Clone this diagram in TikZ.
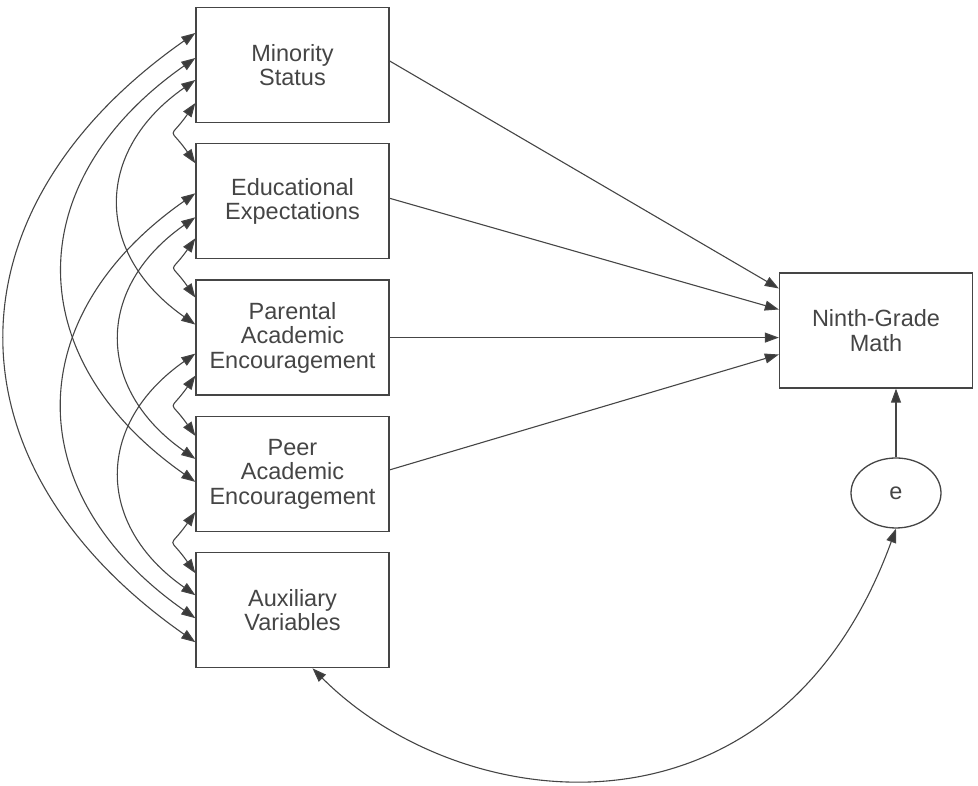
\documentclass[tikz,border=0pt]{standalone}
\usepackage{fontspec}
\setmainfont{Liberation Sans}
\usetikzlibrary{shapes.geometric, arrows.meta, positioning, calc}
\definecolor{inkgray}{HTML}{454545}
\definecolor{tipgray}{HTML}{3A3A3A}

\begin{document}
\begin{tikzpicture}[
        x=1pt, y=1pt,
        node distance=20pt,
        >={Triangle[length=14pt,width=10pt,fill=tipgray]},
        varbox/.style={draw=inkgray, line width=1.3pt, minimum width=193pt, minimum height=115pt, align=center, text=inkgray, font=\fontsize{23.5}{24.5}\selectfont},
        errnode/.style={draw=inkgray, line width=1.3pt, ellipse, minimum width=90pt, minimum height=70pt, text=inkgray, font=\fontsize{23.5}{24.5}\selectfont},
        regpath/.style={->, draw=inkgray, line width=1.1pt},
        covline/.style={<->, draw=inkgray, line width=1.1pt},
        cov/.style={covline, out=215, in=145, looseness=1.3},
        covnear/.style={covline, out=235, in=125, looseness=2}
    ]
        \useasboundingbox (0,0) rectangle (978,786);

        % Nodes
        \node[varbox] (min) at (292.5,721) {Minority\\Status};
        \node[varbox, below=of min] (edu) {Educational\\Expectations};
        \node[varbox, below=of edu] (par) {Parental\\Academic\\Encouragement};
        \node[varbox, below=of par] (peer) {Peer\\Academic\\Encouragement};
        \node[varbox, below=of peer] (aux) {Auxiliary\\Variables};
        \node[varbox] (ninth) at (876,455.5) {Ninth-Grade\\Math};
        \node[errnode] (e) at (896,293) {e};

        % Paths
        \draw[regpath] ([yshift=4pt]min.east) -- ([yshift=42pt]ninth.west);
        \draw[regpath] ([yshift=3pt]edu.east) -- ([yshift=21pt]ninth.west);
        \draw[regpath] (par.east) -- (par.east -| ninth.west);
        \draw[regpath] ([yshift=4pt]peer.east) -- ([yshift=-24pt]ninth.west);
        \draw[regpath] (e) -- (e |- ninth.south);

        % Covariances
        \draw[covnear] ([yshift=-38pt]min.west) to ([yshift=38pt]edu.west);
        \draw[covnear] ([yshift=-37pt]edu.west) to ([yshift=40pt]par.west);
        \draw[covnear] ([yshift=-38pt]par.west) to ([yshift=38pt]peer.west);
        \draw[covnear] ([yshift=-38pt]peer.west) to ([yshift=37pt]aux.west);
        \draw[cov] ([yshift=-15pt]min.west) to ([yshift=13pt]par.west);
        \draw[cov] ([yshift=-16pt]edu.west) to ([yshift=15pt]peer.west);
        \draw[cov] ([yshift=-16pt]par.west) to ([yshift=15pt]aux.west);
        \draw[cov] ([yshift=7pt]min.west) to ([yshift=-8pt]peer.west);
        \draw[cov] ([yshift=8pt]edu.west) to ([yshift=-8pt]aux.west);
        \draw[cov] ([yshift=32pt]min.west) to ([yshift=-32pt]aux.west);
        \draw[covline] ([xshift=20pt]aux.south) .. controls +(-45:215) and +(-110:345) .. (e.south);
    \end{tikzpicture}
\end{document}
